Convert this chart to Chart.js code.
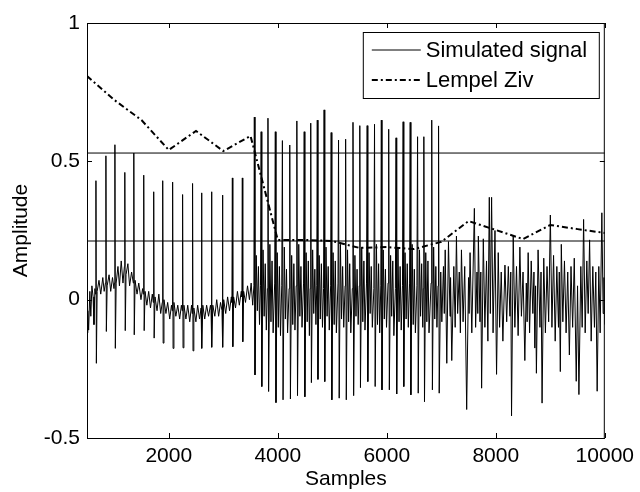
<!DOCTYPE html>
<html>
<head>
<meta charset="utf-8">
<script src="https://cdn.jsdelivr.net/npm/chart.js@4.4.1/dist/chart.umd.min.js"></script>
<style>
  html, body { margin: 0; background: #fff; }
  #wrap { width: 640px; height: 492px; }
</style>
</head>
<body>
<div id="wrap"><canvas id="c" width="640" height="492"></canvas></div>
<script>
const xTicks = [2000, 4000, 6000, 8000, 10000];
const yTicks = [-0.5, 0, 0.5, 1];

// Lempel Ziv complexity, one value per 500-sample window
const lzSamples = [500, 1000, 1500, 2000, 2500, 3000, 3500, 4000, 4500, 5000,
                   5500, 6000, 6500, 7000, 7500, 8000, 8500, 9000, 9500, 10000];
const lzValues  = [0.808, 0.722, 0.649, 0.541, 0.61, 0.537, 0.592, 0.216, 0.216, 0.212,
                   0.187, 0.19, 0.183, 0.209, 0.284, 0.252, 0.219, 0.27, 0.255, 0.241];

const thresholds = [0.53, 0.212];

// simulated signal, [sample, amplitude]
const seg1 = [
  [500,-0.12],[515,-0.04],[530,-0.11],[552,0.03],[570,-0.06],[590,0.05],[612,0.01],[628,-0.09],[645,0.04],[656,0.02],
  [664,0.43],[672,-0.23],[686,0.03],[720,0.07],[752,0.02],[790,0.08],[815,0.03],[838,0.06],
  [847,0.52],[855,-0.115],[870,0.05],[905,0.09],[935,0.03],[968,0.08],[995,0.04],[1004,0.06],
  [1012,0.56],[1020,-0.176],[1035,0.06],[1068,0.12],[1095,0.05],[1128,0.14],[1160,0.06],[1186,0.12],
  [1194,0.46],[1202,-0.112],[1216,0.09],[1250,0.13],[1282,0.05],[1318,0.1],[1350,0.06],
  [1359,0.53],[1367,-0.127],[1382,0.07],[1418,0.02],[1450,0.06],[1490,0.0],[1520,0.04],[1533,0.02],
  [1541,0.45],[1549,-0.112],[1565,0.03],[1598,-0.02],[1632,0.03],[1665,-0.03],[1698,0.02],[1716,-0.01],
  [1724,0.39],[1732,-0.139],[1748,0.01],[1785,-0.04],[1818,0.02],[1852,-0.05],[1881,-0.01],
  [1889,0.43],[1897,-0.157],[1912,0.0],[1948,-0.05],[1980,-0.01],[2018,-0.07],[2050,-0.02],[2063,-0.04],
  [2071,0.425],[2079,-0.176],[2095,-0.01],[2130,-0.06],[2165,-0.02],[2200,-0.07],[2232,-0.02],[2246,-0.04],
  [2254,0.38],[2262,-0.174],[2278,-0.02],[2315,-0.07],[2348,-0.02],[2385,-0.08],[2418,-0.02],[2429,-0.05],
  [2437,0.42],[2445,-0.185],[2460,-0.03],[2498,-0.08],[2530,-0.02],[2565,-0.07],[2593,-0.03],
  [2601,0.386],[2609,-0.176],[2625,-0.02],[2660,-0.07],[2695,-0.02],[2730,-0.06],[2765,-0.02],[2776,-0.04],
  [2784,0.39],[2792,-0.172],[2808,-0.02],[2845,-0.06],[2880,0.0],[2915,-0.06],[2950,-0.01],[2977,-0.04],
  [2985,0.378],[2993,-0.172],[3008,0.0],[3045,-0.05],[3080,0.01],[3115,-0.04],[3148,0.01],[3159,-0.01],
  [3167,0.44],[3175,-0.17],[3190,0.01],[3225,-0.03],[3260,0.03],[3295,-0.02],[3330,0.03],[3342,0.01],
  [3350,0.44],[3358,-0.152],[3374,0.03],[3408,-0.01],[3445,0.05],[3480,0.0],[3512,0.06],
  [3540,-0.02]
];

const seg2 = [
  [3562,0.05],[3570,0.66],[3582,-0.272],[3605,0.16],[3625,-0.04],[3645,0.12],[3665,-0.09],[3683,0.05],
  [3695,0.607],[3707,-0.314],[3730,0.18],[3750,-0.06],[3770,0.13],[3790,-0.11],[3810,0.04],
  [3820,0.656],[3832,-0.332],[3855,0.2],[3875,-0.08],[3895,0.14],[3915,-0.12],[3943,0.06],
  [3955,0.607],[3967,-0.372],[3990,0.17],[4010,-0.1],[4030,0.12],[4050,-0.13],[4073,0.05],
  [4085,0.575],[4097,-0.362],[4120,0.19],[4140,-0.07],[4160,0.11],[4180,-0.12],[4208,0.04],
  [4220,0.559],[4232,-0.359],[4255,0.16],[4275,-0.09],[4295,0.13],[4315,-0.11],[4338,0.05],
  [4350,0.646],[4362,-0.347],[4385,0.2],[4405,-0.06],[4425,0.12],[4445,-0.1],[4473,0.06],
  [4485,0.607],[4497,-0.351],[4520,0.17],[4540,-0.08],[4560,0.14],[4580,-0.13],[4595,0.04],
  [4605,0.638],[4617,-0.3],[4640,0.18],[4660,-0.05],[4680,0.11],[4700,-0.09],[4715,0.05],
  [4725,0.649],[4737,-0.288],[4760,0.16],[4780,-0.07],[4800,0.13],[4820,-0.1],[4840,0.04],
  [4850,0.686],[4862,-0.296],[4885,0.19],[4905,-0.06],[4925,0.12],[4945,-0.11],[4970,0.05],
  [4980,0.604],[4992,-0.362],[5015,0.17],[5035,-0.09],[5055,0.14],[5075,-0.12],[5105,0.06],
  [5115,0.577],[5127,-0.356],[5150,0.2],[5170,-0.07],[5190,0.12],[5210,-0.1],[5235,0.05],
  [5245,0.58],[5257,-0.362],[5280,0.18],[5300,-0.08],[5320,0.13],[5340,-0.12],[5368,0.04],
  [5380,0.641],[5392,-0.347],[5415,0.16],[5435,-0.06],[5455,0.11],[5475,-0.09],[5495,0.05],
  [5505,0.629],[5517,-0.318],[5540,0.19],[5560,-0.08],[5580,0.14],[5600,-0.11],[5628,0.06],
  [5640,0.629],[5652,-0.296],[5675,0.17],[5695,-0.05],[5715,0.12],[5735,-0.1],[5763,0.04],
  [5775,0.634],[5787,-0.314],[5810,0.2],[5830,-0.09],[5850,0.13],[5870,-0.12],[5890,0.05],
  [5900,0.649],[5912,-0.326],[5935,0.18],[5955,-0.07],[5975,0.11],[5995,-0.1],[6023,0.06],
  [6035,0.616],[6047,-0.326],[6070,0.16],[6090,-0.06],[6110,0.14],[6130,-0.13],[6158,0.04],
  [6170,0.585],[6182,-0.341],[6205,0.19],[6225,-0.08],[6245,0.12],[6265,-0.11],[6288,0.05],
  [6300,0.643],[6312,-0.314],[6335,0.17],[6355,-0.07],[6375,0.13],[6395,-0.1],[6418,0.06],
  [6430,0.641],[6442,-0.344],[6465,0.2],[6485,-0.09],[6505,0.11],[6525,-0.12],[6553,0.05],
  [6565,0.589],[6577,-0.338],[6600,0.18],[6620,-0.06],[6640,0.13],[6660,-0.1],[6670,0.04],
  [6680,0.589],[6692,-0.369],[6715,0.17],[6735,-0.08],[6755,0.14],[6775,-0.12],[6813,0.06],
  [6825,0.649],[6837,-0.326],[6860,0.19],[6880,-0.07],[6900,0.12],[6920,-0.1],[6940,0.05],
  [6950,0.628],[6962,-0.338]
];

const seg3 = [
  [6990,0.1],[7010,-0.08],[7040,0.12],[7055,-0.05],[7072,0.18],[7101,-0.23],[7132,0.21],[7160,-0.06],[7170,0.08],
  [7192,-0.22],[7230,0.12],[7255,-0.1],[7278,0.23],[7300,-0.05],[7330,0.1],[7350,-0.12],[7370,0.18],[7400,-0.08],
  [7430,0.12],[7466,-0.397],[7500,0.08],[7510,-0.05],[7528,0.17],[7560,-0.12],[7607,0.33],[7630,-0.1],[7655,0.1],
  [7670,-0.05],[7680,0.23],[7710,-0.08],[7725,0.1],[7740,-0.32],[7771,0.22],[7800,-0.1],[7830,0.14],[7855,-0.15],
  [7881,0.37],[7900,-0.05],[7923,0.37],[7950,-0.12],[7985,0.25],[8014,-0.27],[8045,0.17],[8070,-0.1],[8100,0.1],
  [8130,-0.15],[8168,0.125],[8200,-0.08],[8230,0.12],[8260,-0.06],[8275,0.1],[8289,-0.42],[8320,0.23],[8350,-0.1],
  [8380,0.12],[8410,-0.13],[8442,0.19],[8470,-0.06],[8500,0.1],[8533,-0.22],[8560,0.06],[8575,-0.08],[8594,0.17],
  [8620,-0.12],[8650,0.14],[8680,-0.05],[8700,0.1],[8716,-0.175],[8730,0.05],[8745,-0.266],[8776,0.18],[8810,-0.1],
  [8830,0.1],[8849,-0.374],[8880,0.15],[8910,-0.12],[8940,0.12],[8970,-0.08],[9001,0.306],[9030,-0.1],[9060,0.16],
  [9090,-0.15],[9120,0.12],[9150,-0.1],[9165,0.1],[9184,-0.26],[9202,0.2],[9230,-0.08],[9260,0.14],[9290,-0.12],
  [9320,0.1],[9350,-0.2],[9380,0.12],[9410,-0.1],[9440,0.15],[9476,-0.295],[9500,0.05],[9525,-0.343],[9560,0.12],
  [9585,-0.1],[9611,0.29],[9640,-0.12],[9670,0.14],[9695,-0.05],[9721,0.216],[9750,-0.15],[9780,0.12],[9810,-0.1],
  [9835,0.1],[9860,-0.331],[9890,0.12],[9915,-0.12],[9946,0.314],[9970,-0.05],[9985,0.08],[10000,-0.09]
];

const signal = seg1.concat(seg2, seg3).map(([x, y]) => ({ x, y }));
const lz = lzSamples.map((x, i) => ({ x, y: lzValues[i] }));
const xMin = 500, xMax = 10000;

const FONT = "'Liberation Sans', Arial, sans-serif";

// MATLAB style box, inward ticks and an in-plot legend
const matlabFrame = {
  id: 'matlabFrame',
  afterDraw(chart) {
    const { ctx, chartArea: a, scales: { x, y } } = chart;
    ctx.save();
    ctx.strokeStyle = '#000';
    ctx.lineWidth = 1;
    ctx.strokeRect(a.left + 0.5, a.top + 0.5, a.right - a.left - 1, a.bottom - a.top);

    const t = 5;
    ctx.beginPath();
    xTicks.forEach(v => {
      const px = Math.round(x.getPixelForValue(v)) + 0.5;
      ctx.moveTo(px, a.bottom); ctx.lineTo(px, a.bottom - t);
      ctx.moveTo(px, a.top); ctx.lineTo(px, a.top + t);
    });
    yTicks.forEach(v => {
      const py = Math.round(y.getPixelForValue(v)) + 0.5;
      ctx.moveTo(a.left, py); ctx.lineTo(a.left + t, py);
      ctx.moveTo(a.right, py); ctx.lineTo(a.right - t, py);
    });
    ctx.stroke();

    // legend
    const bx = a.right - 242, by = a.top + 9, bw = 236, bh = 66;
    ctx.fillStyle = '#fff';
    ctx.fillRect(bx, by, bw, bh);
    ctx.strokeRect(bx + 0.5, by + 0.5, bw, bh);
    ctx.font = '22px ' + FONT;
    ctx.textBaseline = 'middle';
    ctx.fillStyle = '#000';
    chart.data.datasets.slice(0, 2).forEach((ds, i) => {
      const ly = by + 18 + i * 30;
      ctx.beginPath();
      ctx.lineWidth = ds.borderWidth;
      ctx.setLineDash(ds.borderDash || []);
      ctx.moveTo(bx + 9, ly); ctx.lineTo(bx + 58, ly);
      ctx.stroke();
      ctx.setLineDash([]);
      ctx.fillText(ds.label, bx + 63, ly + 1);
    });
    ctx.restore();
  }
};

new Chart(document.getElementById('c'), {
  type: 'line',
  data: {
    datasets: [
      { label: 'Simulated signal', data: signal, borderColor: '#000', borderWidth: 1, pointRadius: 0, tension: 0 },
      { label: 'Lempel Ziv', data: lz, borderColor: '#000', borderWidth: 2, borderDash: [6, 3, 2, 3], pointRadius: 0, tension: 0 },
      ...thresholds.map(v => ({
        label: 'threshold', data: [{ x: xMin, y: v }, { x: xMax, y: v }],
        borderColor: '#000', borderWidth: 1, pointRadius: 0
      }))
    ]
  },
  options: {
    responsive: false,
    animation: false,
    events: [],
    layout: { padding: { left: 0, right: 33, top: 23, bottom: 0 } },
    plugins: { legend: { display: false }, tooltip: { enabled: false } },
    scales: {
      x: {
        type: 'linear', min: xMin, max: xMax,
        afterBuildTicks: s => { s.ticks = xTicks.map(v => ({ value: v })); },
        afterFit: s => { s.height = 54; },
        grid: { display: false, drawTicks: false },
        border: { display: false },
        ticks: { color: '#000', padding: 6, maxRotation: 0, font: { family: FONT, size: 21 }, callback: v => String(v) },
        title: { display: true, text: 'Samples', color: '#000', padding: { top: 0, bottom: 0 }, font: { family: FONT, size: 21 } }
      },
      y: {
        min: -0.5, max: 1,
        afterBuildTicks: s => { s.ticks = yTicks.map(v => ({ value: v })); },
        afterFit: s => { s.width = 87; },
        grid: { display: false, drawTicks: false },
        border: { display: false },
        ticks: { color: '#000', padding: 7, font: { family: FONT, size: 21 }, callback: v => String(v) },
        title: { display: true, text: 'Amplitude', color: '#000', padding: { top: 9, bottom: 0 }, font: { family: FONT, size: 21 } }
      }
    }
  },
  plugins: [matlabFrame]
});
</script>
</body>
</html>
